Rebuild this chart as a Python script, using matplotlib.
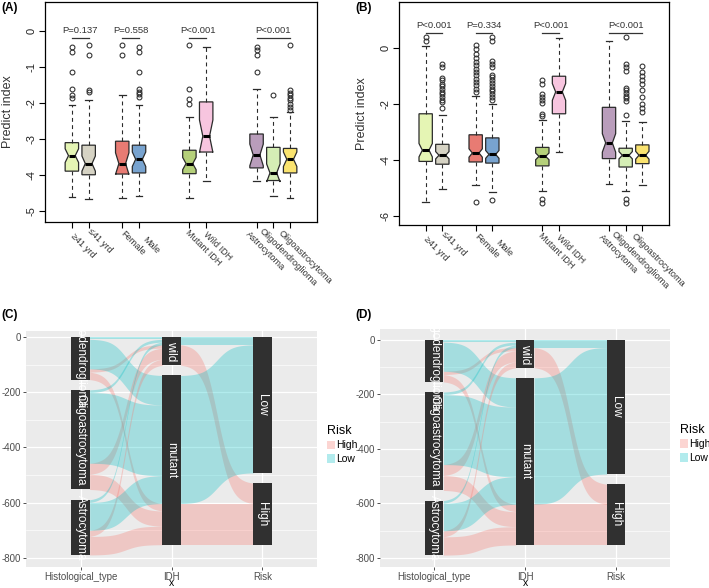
import numpy as np
import matplotlib
matplotlib.use("Agg")
import matplotlib.pyplot as plt
from matplotlib.patches import Patch, Rectangle

plt.rcParams['font.family'] = ['Liberation Sans', 'DejaVu Sans']
plt.rcParams['axes.unicode_minus'] = False

# ---------------- box plot data (A = training, B = validation) ----------------
box_labels = ['≥41 yrd', '≤41 yrd', 'Female', 'Male', 'Mutant IDH', 'Wild IDH',
              'Astrocytoma', 'Oligodendroglioma', 'Oligoastrocytoma']
box_pos = [1, 2, 4, 5, 8, 9, 12, 13, 14]
box_colors = ['#E5F5B4', '#D6D3C4', '#E87B73', '#78A3CF', '#B5D07A',
              '#F7C5DF', '#B99DBB', '#D5EEB5', '#FAE36F']
group_first = [0, 2, 4, 6]
group_last = [1, 3, 5, 8]

a_whislo = [-4.61, -4.66, -4.63, -4.59, -4.64, -4.17, -4.17, -4.59, -4.64]
a_q1 = [-3.89, -3.99, -3.97, -3.94, -3.96, -3.36, -3.80, -4.15, -3.94]
a_med = [-3.46, -3.68, -3.68, -3.56, -3.68, -2.92, -3.44, -3.94, -3.56]
a_q3 = [-3.10, -3.17, -3.06, -3.17, -3.31, -1.97, -2.86, -3.23, -3.26]
a_whishi = [-2.05, -1.93, -1.79, -2.05, -2.38, -0.46, -1.62, -2.38, -2.25]
a_notch = [0.19, 0.21, 0.30, 0.20, 0.17, 0.45, 0.30, 0.25, 0.20]
a_fliers = [
    [-0.44, -0.60, -1.14, -1.62, -1.79, -1.85],
    [-0.38, -0.66, -1.63, -1.70],
    [-0.38, -0.66],
    [-0.44, -0.60, -1.14, -1.62, -1.69, -1.76, -1.83],
    [-0.38, -1.62, -1.90, -2.04],
    [],
    [-0.44, -0.54, -0.68, -1.14],
    [-1.79],
    [-0.38, -1.65, -1.72, -1.79, -1.85, -1.93, -2.02, -2.11, -2.19],
]
a_pvals = ['P=0.137', 'P=0.558', 'P<0.001', 'P<0.001']

b_whislo = [-5.51, -5.05, -4.90, -5.14, -5.12, -3.71, -4.87, -5.12, -4.90]
b_q1 = [-4.05, -4.15, -4.07, -4.11, -4.21, -2.35, -3.95, -4.25, -4.13]
b_med = [-3.65, -3.83, -3.75, -3.80, -3.87, -1.57, -3.39, -3.83, -3.83]
b_q3 = [-2.35, -3.44, -3.10, -3.21, -3.55, -1.01, -2.12, -3.58, -3.46]
b_whishi = [0.06, -2.38, -1.73, -1.99, -2.56, 0.37, 0.25, -2.62, -2.64]
b_notch = [0.24, 0.13, 0.15, 0.14, 0.12, 0.30, 0.33, 0.13, 0.14]
b_fliers = [
    [0.39, 0.25],
    [-0.56, -0.68, -1.06, -1.15, -1.27, -1.37, -1.46, -1.56, -1.65, -1.75, -1.85, -1.94, -2.13],
    [0.12, -0.04, -0.20, -0.36, -0.50, -0.62, -0.74, -0.86, -0.98, -1.10, -1.21, -1.33,
     -1.45, -1.57, -5.51],
    [0.39, 0.25, -0.48, -0.56, -0.68, -0.95, -1.05, -1.15, -1.25, -1.35, -1.45, -1.55,
     -1.65, -1.75, -1.85, -5.44],
    [-1.15, -1.27, -1.63, -1.75, -1.87, -1.96, -2.35, -2.44, -5.40, -5.52],
    [],
    [],
    [0.39, -0.56, -0.68, -0.83, -1.42, -1.51, -1.61, -1.70, -1.80, -1.90, -2.40, -5.40, -5.52],
    [-0.64, -0.86, -1.01, -1.15, -1.27, -1.51, -1.75, -1.99, -2.13, -2.29],
]
b_pvals = ['P<0.001', 'P=0.334', 'P<0.001', 'P<0.001']

# ---------------- parallel sets data (C and D) ----------------
hist_levels = ['Oligodendroglioma', 'Oligoastrocytoma', 'Astrocytoma']
idh_levels = ['wild', 'mutant']
risk_levels = ['Low', 'High']
risk_colors = {'High': '#F8766D', 'Low': '#00BFC4'}
flow_hist = ['Oligodendroglioma'] * 4 + ['Oligoastrocytoma'] * 4 + ['Astrocytoma'] * 4
flow_idh = ['wild', 'wild', 'mutant', 'mutant'] * 3
flow_risk = ['Low', 'High', 'Low', 'High'] * 3
flow_n = [8, 12, 107, 27, 10, 40, 256, 55, 10, 22, 101, 67]

fig = plt.figure(figsize=(7.09, 5.88), dpi=100)
W, H = 709.0, 588.0


def px_axes(left, top, right, bottom):
    return fig.add_axes([left / W, 1 - bottom / H, (right - left) / W, (bottom - top) / H])


# label offsets below the axis (pixels)
lab_dx = [0, 1, 0, 5, -3, -1, -9, -13, -10]
lab_dy = [13, 8, 10, 16, 9, 11, 11, 8, 10]


def draw_box_panel(ax, whislo, q1, med, q3, whishi, notch, fliers, pvals,
                   line_y, text_y, ylim, yticks):
    stats = []
    for i in range(len(box_pos)):
        stats.append(dict(whislo=whislo[i], q1=q1[i], med=med[i], q3=q3[i],
                          whishi=whishi[i], cilo=med[i] - notch[i],
                          cihi=med[i] + notch[i], fliers=np.array(fliers[i])))
    bp = ax.bxp(stats, positions=box_pos, widths=0.8, shownotches=True,
                patch_artist=True,
                boxprops=dict(edgecolor='#2b2b2b', linewidth=0.9),
                medianprops=dict(color='black', linewidth=2.2),
                whiskerprops=dict(color='#2b2b2b', linewidth=0.8, linestyle=(0, (3.5, 3))),
                capprops=dict(color='#2b2b2b', linewidth=0.9),
                flierprops=dict(marker='o', markerfacecolor='none',
                                markeredgecolor='#2b2b2b', markersize=3.5,
                                markeredgewidth=0.75))
    for patch, c in zip(bp['boxes'], box_colors):
        patch.set_facecolor(c)

    for g, (i0, i1) in enumerate(zip(group_first, group_last)):
        ax.plot([box_pos[i0], box_pos[i1]], [line_y, line_y], color='#333333', lw=0.9)
        ax.text((box_pos[i0] + box_pos[i1]) / 2, text_y, pvals[g], ha='center',
                va='center', fontsize=6.8, color='#333333')

    ax.set_xlim(-0.6, 15.6)
    ax.set_ylim(*ylim)
    ax.set_yticks(yticks)
    ax.set_yticklabels([str(t) for t in yticks])
    for lab in ax.get_yticklabels():
        lab.set_rotation(90)
        lab.set_va('center')
        lab.set_ha('right')
    ax.set_xticks(box_pos)
    ax.set_xticklabels([])
    ax.tick_params(direction='out', length=4, width=0.8, labelsize=8, pad=2,
                   labelcolor='#222222')
    for s in ax.spines.values():
        s.set_linewidth(0.9)
    ax.set_ylabel('Predict index', fontsize=9, color='#333333')
    ax.yaxis.set_label_coords(-0.115, 0.5)
    for i, lab in enumerate(box_labels):
        ax.annotate(lab, xy=(box_pos[i], 0), xycoords=('data', 'axes fraction'),
                    xytext=(lab_dx[i] * 0.72, -lab_dy[i] * 0.72),
                    textcoords='offset points', rotation=-45, rotation_mode='anchor',
                    ha='left', va='center', fontsize=6.6, color='#333333',
                    annotation_clip=False)


def sigmoid_path(x0, x1, y0, y1, n=100):
    t = np.linspace(-5, 5, n)
    s = 1 / (1 + np.exp(-t))
    s = (s - s[0]) / (s[-1] - s[0])
    return np.linspace(x0, x1, n), y0 + (y1 - y0) * s


def draw_sets_panel(ax, ylim, legend_anchor):
    ax.set_facecolor('#EBEBEB')
    total = sum(flow_n)
    sep = 0.052 * total
    width = 0.2
    levels_all = [hist_levels, idh_levels, risk_levels]
    keys_all = [flow_hist, flow_idh, flow_risk]

    # stack strata from the top (y = 0) downwards
    strata = []
    for levels, keys in zip(levels_all, keys_all):
        d = {}
        y = 0.0
        for lev in levels:
            size = sum(n for k, n in zip(keys, flow_n) if k == lev)
            d[lev] = (y, size)
            y -= size + sep
        strata.append(d)

    # flows between neighbouring axes, coloured by risk
    for a in range(2):
        b = a + 1
        combos = {}
        for i, n in enumerate(flow_n):
            key = (keys_all[a][i], keys_all[b][i], flow_risk[i])
            combos[key] = combos.get(key, 0) + n
        ka = lambda k: (levels_all[a].index(k[0]), risk_levels.index(k[2]), levels_all[b].index(k[1]))
        kb = lambda k: (levels_all[b].index(k[1]), risk_levels.index(k[2]), levels_all[a].index(k[0]))
        left_top, right_top = {}, {}
        cur = {lev: strata[a][lev][0] for lev in levels_all[a]}
        for k in sorted(combos, key=ka):
            left_top[k] = cur[k[0]]
            cur[k[0]] -= combos[k]
        cur = {lev: strata[b][lev][0] for lev in levels_all[b]}
        for k in sorted(combos, key=kb):
            right_top[k] = cur[k[1]]
            cur[k[1]] -= combos[k]
        for k, n in combos.items():
            x, yt = sigmoid_path(a + 1 + width / 2, b + 1 - width / 2, left_top[k], right_top[k])
            ax.fill_between(x, yt - n, yt, color=risk_colors[k[2]], alpha=0.3, lw=0, zorder=2)

    for j, d in enumerate(strata):
        for lev, (top, size) in d.items():
            ax.add_patch(Rectangle((j + 1 - width / 2, top - size), width, size,
                                   facecolor='#303030', edgecolor='none', zorder=3))
            ax.text(j + 1, top - size / 2, lev, rotation=-90, color='white',
                    ha='center', va='center', fontsize=8.5, zorder=4, clip_on=True)

    ax.set_xlim(0.4, 3.6)
    ax.set_ylim(*ylim)
    yt = [0, -200, -400, -600, -800]
    ax.set_yticks(yt)
    ax.set_yticklabels([str(v) for v in yt])
    ax.set_yticks([-100, -300, -500, -700], minor=True)
    ax.set_xticks([1, 2, 3])
    ax.set_xticklabels(['Histological_type', 'IDH', 'Risk'])
    ax.set_axisbelow(True)
    ax.grid(which='major', color='white', lw=0.9)
    ax.grid(which='minor', axis='y', color='white', lw=0.45)
    ax.tick_params(which='major', length=2.5, width=0.6, color='#333333',
                   labelsize=7, labelcolor='#4D4D4D', pad=1.2)
    ax.tick_params(which='minor', length=0)
    for s in ax.spines.values():
        s.set_visible(False)
    ax.set_xlabel('x', fontsize=7.5, labelpad=-3)

    handles = [Patch(facecolor=risk_colors[r], alpha=0.3, edgecolor='none') for r in ['High', 'Low']]
    ax.legend(handles, ['High', 'Low'], title='Risk', loc='upper left',
              bbox_to_anchor=legend_anchor, frameon=False, fontsize=7.5,
              title_fontsize=9, handlelength=0.75, handleheight=0.9,
              handletextpad=0.15, labelspacing=0.35, borderaxespad=0,
              alignment='left')


ax_a = px_axes(45, 2, 317, 222)
draw_box_panel(ax_a, a_whislo, a_q1, a_med, a_q3, a_whishi, a_notch, a_fliers,
               a_pvals, -0.21, 0.02, (-5.3, 0.8), [0, -1, -2, -3, -4, -5])

ax_b = px_axes(399, 2, 669, 225)
draw_box_panel(ax_b, b_whislo, b_q1, b_med, b_q3, b_whishi, b_notch, b_fliers,
               b_pvals, 0.55, 0.81, (-6.32, 1.64), [0, -2, -4, -6])

ax_c = px_axes(26, 331, 317, 567)
draw_sets_panel(ax_c, (-833, 22), (1.02, 0.62))

ax_d = px_axes(380, 329, 670, 567)
draw_sets_panel(ax_d, (-833, 40), (1.02, 0.62))

for tag, x, y in [('(A)', 1, 8), ('(B)', 355, 8), ('(C)', 1, 315), ('(D)', 355, 315)]:
    fig.text(x / W, 1 - y / H, tag, fontsize=8.5, fontweight='bold', va='center', ha='left')

fig.savefig('out.png', dpi=100)
